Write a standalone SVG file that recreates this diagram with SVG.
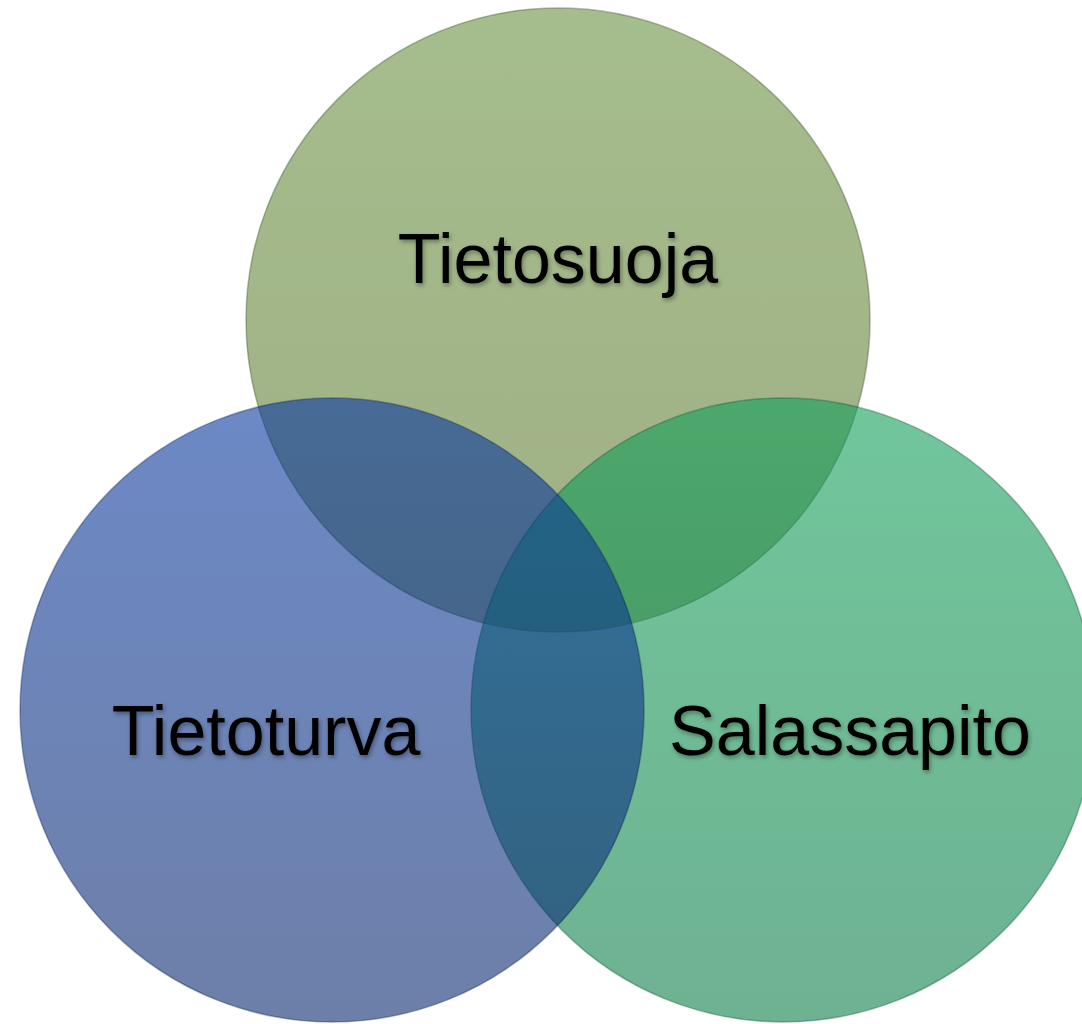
<svg xmlns="http://www.w3.org/2000/svg" width="1082" height="1024" viewBox="0 0 1082 1024">
<defs>
<linearGradient id="gT" x1="0" y1="0" x2="0" y2="1"><stop offset="0" stop-color="#6a9140"/><stop offset="1" stop-color="#5f7a33"/></linearGradient>
<linearGradient id="gL" x1="0" y1="0" x2="0" y2="1"><stop offset="0" stop-color="#0a3aa0"/><stop offset="1" stop-color="#0a2a6e"/></linearGradient>
<linearGradient id="gR" x1="0" y1="0" x2="0" y2="1"><stop offset="0" stop-color="#12a05a"/><stop offset="1" stop-color="#0d7e48"/></linearGradient>
<filter id="ts" x="-10%" y="-20%" width="120%" height="150%"><feDropShadow dx="1.5" dy="2.5" stdDeviation="2" flood-color="#000" flood-opacity="0.35"/></filter>
<style>
.c{fill-opacity:0.6;stroke-opacity:0.35;stroke-width:1.5}
.t{font-family:"Liberation Sans",Arial,sans-serif;font-size:70px;fill:#000;text-anchor:middle;filter:url(#ts)}
</style>
</defs>
<rect width="1082" height="1024" fill="#fff"/>
<g id="tietosuoja"><circle class="c" cx="558" cy="320" r="312" fill="url(#gT)" stroke="#2f3f1a"/></g>
<g id="salassapito"><circle class="c" cx="783" cy="710" r="312" fill="url(#gR)" stroke="#0a4a2a"/></g>
<g id="tietoturva"><circle class="c" cx="332" cy="710" r="312" fill="url(#gL)" stroke="#0a1a4a"/></g>
<g id="labels">
<text class="t" x="558" y="283">Tietosuoja</text>
<text class="t" x="266" y="755">Tietoturva</text>
<text class="t" x="850" y="755">Salassapito</text>
</g>
</svg>
